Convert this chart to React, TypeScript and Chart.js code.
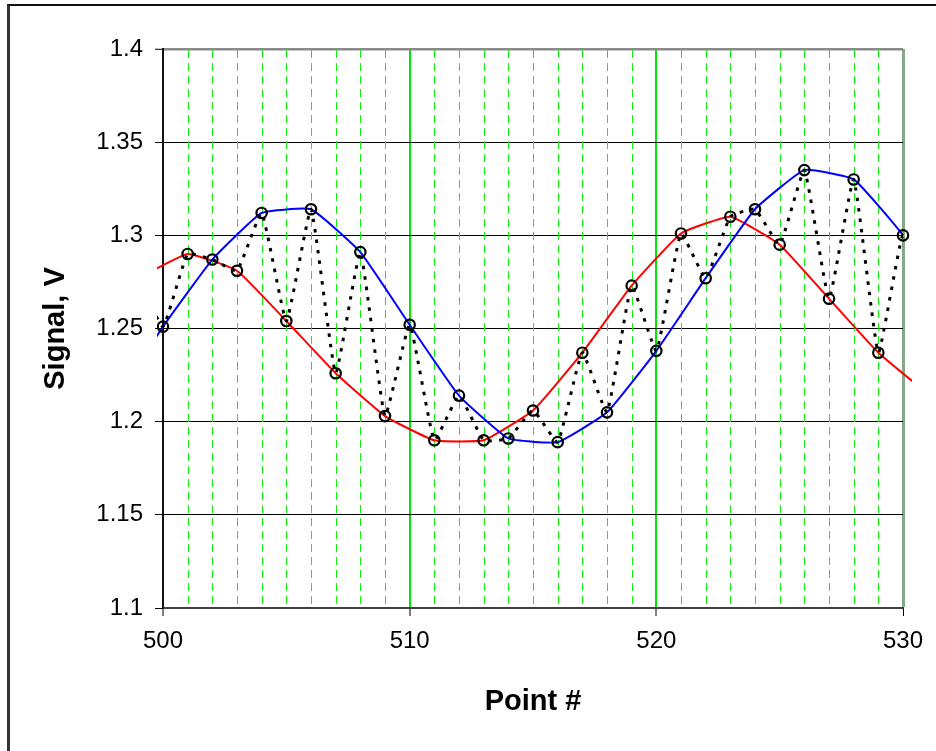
import React, { useEffect, useRef } from "react";
import { Chart, registerables } from "chart.js";

Chart.register(...registerables);

// ---- data ----
const blackPoints = [
  499, 500, 501, 502, 503, 504, 505, 506, 507, 508, 509, 510, 511, 512, 513, 514, 515,
  516, 517, 518, 519, 520, 521, 522, 523, 524, 525, 526, 527, 528, 529, 530, 531,
];
const blackSignal = [
  1.277, 1.251, 1.29, 1.287, 1.281, 1.312, 1.254, 1.314, 1.226, 1.291, 1.203, 1.252, 1.19,
  1.214, 1.19, 1.191, 1.206, 1.189, 1.237, 1.205, 1.273, 1.238, 1.301, 1.277, 1.31, 1.314,
  1.295, 1.335, 1.266, 1.33, 1.237, 1.3, 1.215,
];
const evenPoints = [498, 500, 502, 504, 506, 508, 510, 512, 514, 516, 518, 520, 522, 524, 526, 528, 530, 532];
const blueSignal = [
  1.21, 1.251, 1.287, 1.312, 1.314, 1.291, 1.252, 1.214, 1.191, 1.189, 1.205, 1.238, 1.277,
  1.314, 1.335, 1.33, 1.3, 1.258,
];
const oddPoints = [499, 501, 503, 505, 507, 509, 511, 513, 515, 517, 519, 521, 523, 525, 527, 529, 531];
const redSignal = [
  1.277, 1.29, 1.281, 1.254, 1.226, 1.203, 1.19, 1.19, 1.206, 1.237, 1.273, 1.301, 1.31,
  1.295, 1.266, 1.237, 1.215,
];
const xTickValues = [500, 510, 520, 530];
const yTickValues = [1.1, 1.15, 1.2, 1.25, 1.3, 1.35, 1.4];
const minorGridPoints = [
  501, 502, 503, 504, 505, 506, 507, 508, 509, 511, 512, 513, 514, 515, 516, 517, 518, 519,
  521, 522, 523, 524, 525, 526, 527, 528, 529,
];
const xTitle = "Point #";
const yTitle = "Signal, V";

const FONT = "'Liberation Sans', Arial, Helvetica, sans-serif";

const toXY = (xs: number[], ys: number[]) => xs.map((x, i) => ({ x, y: ys[i] }));

const minorGrid = {
  id: "minorGrid",
  beforeDatasetsDraw(chart: any) {
    const { ctx, chartArea, scales } = chart;
    const xs = scales.x;
    ctx.save();
    ctx.strokeStyle = "#11f011";
    ctx.lineWidth = 1;
    ctx.setLineDash([8, 5]);
    for (const v of minorGridPoints) {
      const px = Math.round(xs.getPixelForValue(v)) + 0.5;
      ctx.beginPath();
      ctx.moveTo(px, chartArea.top + 1);
      ctx.lineTo(px, chartArea.bottom);
      ctx.stroke();
    }
    ctx.restore();
  },
};

const near = (a: number, b: number) => Math.abs(a - b) < 1e-9;

export default function App() {
  const ref = useRef<HTMLCanvasElement | null>(null);

  useEffect(() => {
    if (!ref.current) return;
    const clip = { left: 6, top: 10, right: 9, bottom: 10 };
    const chart = new Chart(ref.current, {
      type: "line",
      data: {
        datasets: [
          {
            data: toXY(blackPoints, blackSignal),
            borderColor: "#000000",
            borderWidth: 3,
            borderDash: [3.5, 7],
            pointRadius: 5.2,
            pointBorderWidth: 2.2,
            pointBorderColor: "#000000",
            pointBackgroundColor: "rgba(0,0,0,0)",
            tension: 0.12,
            fill: false,
            clip,
          } as any,
          {
            data: toXY(evenPoints, blueSignal),
            borderColor: "#0000ff",
            borderWidth: 2,
            pointRadius: 0,
            tension: 0.12,
            fill: false,
            clip,
          } as any,
          {
            data: toXY(oddPoints, redSignal),
            borderColor: "#ff0000",
            borderWidth: 2,
            pointRadius: 0,
            tension: 0.12,
            fill: false,
            clip,
          } as any,
        ],
      },
      options: {
        responsive: false,
        maintainAspectRatio: false,
        animation: false,
        events: [],
        layout: { padding: { left: 0, top: 49, right: 33, bottom: 0 } },
        plugins: { legend: { display: false }, tooltip: { enabled: false } },
        scales: {
          x: {
            type: "linear",
            min: 500,
            max: 530,
            afterBuildTicks: (s: any) => {
              s.ticks = xTickValues.map((v) => ({ value: v }));
            },
            afterFit: (s: any) => {
              s.height = 143;
            },
            ticks: {
              font: { family: FONT, size: 24 },
              color: "#000000",
              padding: 11,
              maxRotation: 0,
              autoSkip: false,
              callback: (v: any) => String(v),
            },
            grid: {
              color: (c: any) => {
                const v = c.tick ? c.tick.value : 0;
                if (v === 510 || v === 520) return "#00e600";
                if (v === 530) return "#86a886";
                return "rgba(0,0,0,0)";
              },
              lineWidth: (c: any) => {
                const v = c.tick ? c.tick.value : 0;
                if (v === 530) return 3;
                return 2;
              },
              tickColor: "#000000",
              tickLength: 8,
              tickWidth: 1,
            },
            border: { color: "#404040", width: 2 },
            title: {
              display: true,
              text: xTitle,
              color: "#000000",
              font: { family: FONT, size: 29, weight: "bold", lineHeight: 1.2 },
              padding: { top: 0, bottom: 31.6 },
            },
          },
          y: {
            type: "linear",
            min: 1.1,
            max: 1.4,
            afterBuildTicks: (s: any) => {
              s.ticks = yTickValues.map((v) => ({ value: v }));
            },
            afterFit: (s: any) => {
              s.width = 163;
            },
            ticks: {
              font: { family: FONT, size: 24 },
              color: "#000000",
              padding: 12,
              callback: (v: any) => String(Number(Number(v).toFixed(2))),
            },
            grid: {
              color: (c: any) => {
                const v = c.tick ? c.tick.value : 0;
                return near(v, 1.4) ? "#8a8a8a" : "#000000";
              },
              lineWidth: (c: any) => {
                const v = c.tick ? c.tick.value : 0;
                return near(v, 1.4) ? 2.5 : 1;
              },
              tickColor: "#000000",
              tickLength: 8,
              tickWidth: 1,
            },
            border: { color: "#111111", width: 2 },
            title: {
              display: true,
              text: yTitle,
              color: "#000000",
              font: { family: FONT, size: 29, weight: "bold", lineHeight: 1.2 },
              padding: { top: 38.5, bottom: 0 },
            },
          },
        },
      },
      plugins: [minorGrid],
    } as any);
    return () => chart.destroy();
  }, []);

  return (
    <div
      style={{
        position: "absolute",
        left: 0,
        top: 0,
        width: 936,
        height: 751,
        overflow: "hidden",
        background: "#ffffff",
      }}
    >
      <canvas ref={ref} width={936} height={751} style={{ display: "block" }} />
      <div
        style={{
          position: "absolute",
          left: 7,
          top: 4,
          width: 1000,
          height: 1000,
          borderTop: "2px solid #111111",
          borderLeft: "3px solid #333333",
          pointerEvents: "none",
        }}
      />
    </div>
  );
}
